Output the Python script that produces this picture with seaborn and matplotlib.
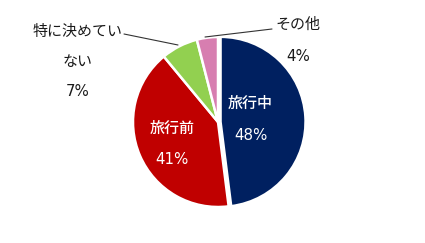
import matplotlib
matplotlib.use("Agg")
import matplotlib.pyplot as plt
import seaborn as sns

sns.set_theme(style="white")
plt.rcParams['font.family'] = ['Noto Sans CJK JP', 'DejaVu Sans']

categories = ["旅行中", "旅行前", "特に決めていない", "その他"]
values = [48, 41, 7, 4]
colors = ["#002060", "#C00000", "#92D050", "#D77EB0"]
explode = [0.03, 0, 0, 0]

W, H = 425, 243
cx, cy, R = 218, 122, 85

fig = plt.figure(figsize=(W / 100, H / 100), dpi=100)
fig.patch.set_facecolor("white")
ax = fig.add_axes([(cx - R) / W, (H - cy - R) / H, 2 * R / W, 2 * R / H])
ax.pie(values, colors=colors, startangle=90, counterclock=False,
       explode=explode, radius=1,
       wedgeprops=dict(edgecolor="white", linewidth=1.8))
ax.set_xlim(-1, 1)
ax.set_ylim(-1, 1)
ax.set_aspect("equal")
ax.axis("off")


def d(px, py):
    return (px - cx) / R, (cy - py) / R


fs = 10.8
cjk = ['Noto Sans CJK JP', 'DejaVu Sans']
num = ['DejaVu Sans', 'Noto Sans CJK JP']
# inside labels
for (px, py), txt, fam in [((250, 103), categories[0], cjk), ((251, 135), f"{values[0]}%", num),
                           ((172, 128), categories[1], cjk), ((172, 160), f"{values[1]}%", num)]:
    ax.text(*d(px, py), txt, color="white", fontsize=fs, ha="center", va="center",
            family=fam, fontweight="medium", clip_on=False)

# outside labels
for (px, py), txt, fam in [((78, 32), "特に決めてい", cjk), ((78, 62), "ない", cjk),
                           ((78, 91), f"{values[2]}%", num),
                           ((298, 25), categories[3], cjk), ((298, 56), f"{values[3]}%", num)]:
    ax.text(*d(px, py), txt, color="#1a1a1a", fontsize=fs, ha="center", va="center",
            family=fam, clip_on=False)

# leader lines
for (x0, y0), (x1, y1) in [((124, 34), (178, 45)), ((272, 29), (205, 37))]:
    a, b = d(x0, y0)
    c, e = d(x1, y1)
    ax.plot([a, c], [b, e], color="#333333", linewidth=0.8, clip_on=False)

fig.savefig("out.png", dpi=100)
